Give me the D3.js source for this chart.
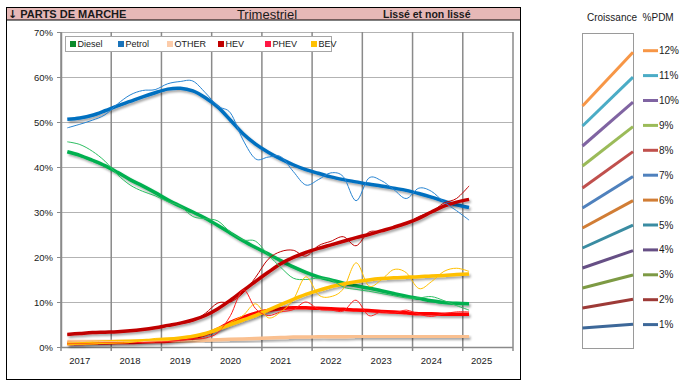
<!DOCTYPE html>
<html>
<head>
<meta charset="utf-8">
<script src="https://cdn.jsdelivr.net/npm/d3@7"></script>
<style>
	body { margin: 0; background: #fff; }
	svg { display: block; }
	text { font-family: "Liberation Sans", Arial, sans-serif; fill: #1a1a1a; }
</style>
</head>
<body>
<svg id="chart" width="691" height="386"></svg>
<script>

// years on the axis, 4 quarters each, data runs 2017-Q1 .. 2025-Q1
var years = [2017, 2018, 2019, 2020, 2021, 2022, 2023, 2024, 2025];
var yTicks = [0, 10, 20, 30, 40, 50, 60, 70];

var seriesNames = ["Diesel", "Petrol", "OTHER", "HEV", "PHEV", "BEV"];

// smoothed series (thick lines)
var dieselLisse = [43.4, 42.6, 41.5, 40.3, 38.8, 37.2, 35.8, 34.3, 32.7, 31.3, 30.0, 28.6, 27.0, 25.3, 23.6, 22.1, 20.7, 19.2, 17.8, 16.6, 15.6, 14.9, 14.2, 13.6, 13.1, 12.5, 11.9, 11.3, 10.8, 10.3, 9.9, 9.7, 9.6];
var petrolLisse = [50.6, 50.9, 51.5, 52.5, 53.6, 54.6, 55.6, 56.5, 57.3, 57.5, 56.9, 55.4, 53.3, 50.4, 47.4, 45.1, 43.3, 41.8, 40.5, 39.4, 38.6, 37.8, 37.2, 36.7, 36.2, 35.8, 35.3, 34.8, 34.1, 33.3, 32.4, 31.6, 31.0];
var otherLisse = [1.2, 1.2, 1.2, 1.2, 1.2, 1.2, 1.2, 1.2, 1.3, 1.3, 1.4, 1.5, 1.6, 1.7, 1.8, 1.9, 2.0, 2.1, 2.2, 2.2, 2.3, 2.3, 2.3, 2.4, 2.4, 2.4, 2.4, 2.4, 2.4, 2.4, 2.4, 2.4, 2.4];
var hevLisse = [2.8, 3.0, 3.2, 3.3, 3.4, 3.6, 3.9, 4.3, 4.8, 5.3, 6.0, 7.0, 8.5, 10.4, 12.5, 14.6, 16.6, 18.5, 19.9, 21.0, 21.9, 22.7, 23.5, 24.3, 25.0, 25.8, 26.6, 27.5, 28.6, 30.0, 31.3, 32.2, 32.8];
var phevLisse = [0.8, 0.8, 0.9, 0.9, 1.0, 1.0, 1.1, 1.2, 1.3, 1.6, 2.0, 2.8, 4.0, 5.5, 6.6, 7.5, 8.1, 8.5, 8.7, 8.7, 8.6, 8.5, 8.4, 8.2, 8.1, 7.9, 7.8, 7.6, 7.4, 7.4, 7.3, 7.3, 7.3];
var bevLisse = [0.8, 0.9, 1.0, 1.1, 1.2, 1.3, 1.4, 1.5, 1.7, 2.0, 2.4, 3.0, 4.0, 5.0, 6.0, 7.0, 8.2, 9.4, 10.6, 11.7, 12.6, 13.4, 14.0, 14.5, 14.9, 15.2, 15.4, 15.5, 15.6, 15.8, 15.9, 16.1, 16.2];

// raw series (thin lines)
var dieselBrut = [45.6, 45.0, 43.5, 41.3, 38.3, 36.0, 34.6, 33.6, 32.3, 31.3, 29.0, 28.5, 28.0, 25.5, 23.8, 23.5, 20.5, 17.7, 15.3, 15.0, 15.3, 14.9, 13.3, 12.8, 12.4, 11.9, 11.4, 10.9, 10.9, 11.2, 10.3, 9.2, 8.2];
var petrolBrut = [48.7, 49.5, 50.4, 51.6, 54.0, 56.0, 57.0, 57.2, 58.5, 59.0, 59.1, 56.5, 53.5, 52.0, 46.0, 41.8, 42.2, 42.3, 39.0, 36.0, 37.2, 38.7, 37.8, 32.5, 37.5, 37.0, 35.0, 33.0, 35.3, 34.6, 32.2, 30.3, 28.2];
var otherBrut = [1.1, 1.2, 1.3, 1.2, 1.2, 1.1, 1.2, 1.3, 1.3, 1.3, 1.4, 1.6, 1.6, 1.7, 1.8, 1.9, 2.1, 2.1, 2.2, 2.3, 2.3, 2.2, 2.4, 2.4, 2.3, 2.4, 2.5, 2.4, 2.4, 2.5, 2.4, 2.4, 2.4];
var hevBrut = [2.7, 2.9, 3.1, 3.3, 3.4, 3.6, 3.9, 4.2, 4.6, 5.2, 5.8, 7.5, 9.8, 10.0, 12.0, 15.5, 19.5, 21.2, 21.5, 20.2, 22.5, 23.5, 24.5, 22.5, 25.5, 25.7, 26.5, 27.4, 29.0, 30.0, 32.0, 33.0, 35.8];
var phevBrut = [0.7, 0.7, 0.8, 0.9, 1.0, 1.0, 1.0, 1.1, 1.2, 1.5, 1.8, 2.0, 3.2, 7.0, 12.7, 8.5, 7.0, 7.8, 8.3, 10.0, 8.4, 8.2, 8.0, 10.4, 7.0, 7.8, 7.5, 8.2, 7.3, 6.8, 7.4, 7.8, 7.8];
var bevBrut = [0.6, 0.6, 0.7, 0.8, 0.9, 1.0, 1.4, 1.9, 2.0, 2.1, 2.4, 2.9, 3.6, 5.5, 7.0, 9.6, 6.5, 7.8, 10.5, 15.6, 11.6, 11.2, 13.0, 18.7, 13.6, 14.9, 17.2, 16.5, 13.0, 14.5, 16.8, 17.5, 16.8];

// side panel: growth curves
var growthLabels = ["1%", "2%", "3%", "4%", "5%", "6%", "7%", "8%", "9%", "10%", "11%", "12%"];
var growthStart = [1.0, 2.0, 3.0, 4.0, 5.0, 6.0, 7.0, 8.0, 9.1, 10.1, 11.1, 12.1];
var growthEnd = [1.19, 2.44, 3.65, 4.87, 6.14, 7.37, 8.57, 9.82, 11.07, 12.29, 13.54, 14.79];

var lineColors = ["#00B050", "#0070C0", "#FAC090", "#C00000", "#FF0000", "#FFC000"];
var thinColors = ["#2DBE62", "#2784D2", "#FAC090", "#C00000", "#FF1E1E", "#FFC000"];
var legendColors = ["#0B8A2A", "#1A73BA", "#FCCCAA", "#C00000", "#FF1744", "#FFC000"];
var growthColors = ["#3D6899", "#9D3A37", "#7D9A44", "#664F85", "#3A8CA2", "#D17D35", "#4F81BD", "#C0504D", "#9BBB59", "#8064A2", "#4BACC6", "#F79646"];

var svg = d3.select("#chart");

renderChart();

function renderChart() {

	var defs = svg.append("defs");

	var shadow = defs.append("filter")
		.attr("id", "shadow")
		.attr("x", "-5%").attr("y", "-20%")
		.attr("width", "110%").attr("height", "140%");

	shadow.append("feDropShadow")
		.attr("dx", 1.5)
		.attr("dy", 2)
		.attr("stdDeviation", 1)
		.attr("flood-color", "#000")
		.attr("flood-opacity", 0.35);

	// outer frame + header band
	svg.append("rect")
		.attr("x", 6.5).attr("y", 7.5)
		.attr("width", 514).attr("height", 372)
		.attr("fill", "#fff")
		.attr("stroke", "#000");

	svg.append("rect")
		.attr("x", 6.5).attr("y", 7.5)
		.attr("width", 514).attr("height", 12.5)
		.attr("fill", "#E6B8B7")
		.attr("stroke", "#000");

	var title = svg.append("text")
		.attr("x", 8).attr("y", 18)
		.attr("font-size", 11)
		.attr("font-weight", "bold");

	title.append("tspan")
		.attr("font-family", "\"DejaVu Sans\", sans-serif")
		.attr("font-size", 11)
		.text("\u2193");

	title.append("tspan")
		.attr("dx", 3)
		.text("PARTS DE MARCHE");

	svg.append("text")
		.attr("x", 267).attr("y", 18.5)
		.attr("font-size", 13)
		.attr("text-anchor", "middle")
		.text("Trimestriel");

	svg.append("text")
		.attr("x", 383).attr("y", 18)
		.attr("font-size", 10.5)
		.attr("font-weight", "bold")
		.text("Lissé et non lissé");

	drawMainPlot();
	drawGrowthPanel();

}

function drawMainPlot() {

	var quarterKeys = [];
	years.forEach(y => [1, 2, 3, 4].forEach(q => quarterKeys.push(y + "-Q" + q)));

	var left = 61, right = 513, top = 32, bottom = 347;

	var xScale = d3.scaleBand()
		.domain(quarterKeys)
		.range([left, right]);

	var yScale = d3.scaleLinear()
		.domain([0, 70])
		.range([bottom, top]);

	var plot = svg.append("g");

	// horizontal grid
	plot.selectAll(".hgrid")
		.data(yTicks.filter(d => d > 0))
		.enter()
		.append("line")
		.attr("x1", left).attr("x2", right)
		.attr("y1", d => Math.round(yScale(d)) + 0.5)
		.attr("y2", d => Math.round(yScale(d)) + 0.5)
		.attr("stroke", "#b3b3b3");

	// year separators (grid + ticks below axis)
	var yearEdges = years.map(y => xScale(y + "-Q1")).concat([right]);

	plot.selectAll(".vgrid")
		.data(yearEdges)
		.enter()
		.append("line")
		.attr("x1", d => d).attr("x2", d => d)
		.attr("y1", top).attr("y2", bottom + 4)
		.attr("stroke", "#8a8a8a")
		.attr("stroke-width", 1.5);

	// y axis
	var yAxis = plot.append("g")
		.attr("transform", "translate(" + left + ",0)")
		.call(d3.axisLeft(yScale).tickValues(yTicks).tickFormat(d => d + "%").tickSize(4).tickSizeOuter(0));

	yAxis.select(".domain").attr("stroke", "#8a8a8a").attr("stroke-width", 1.5);
	yAxis.selectAll(".tick line").attr("stroke", "#8a8a8a");
	yAxis.selectAll(".tick text")
		.attr("x", -8)
		.attr("font-size", 9.5)
		.attr("font-family", "\"Liberation Sans\", Arial, sans-serif")
		.attr("fill", "#1a1a1a");

	// x axis line
	plot.append("line")
		.attr("x1", left).attr("x2", right)
		.attr("y1", bottom + 0.5).attr("y2", bottom + 0.5)
		.attr("stroke", "#8a8a8a")
		.attr("stroke-width", 1.5);

	plot.selectAll(".year")
		.data(years)
		.enter()
		.append("text")
		.attr("x", d => xScale(d + "-Q2") + xScale.bandwidth() / 2)
		.attr("y", 364)
		.attr("font-size", 9.5)
		.attr("text-anchor", "middle")
		.text(d => d);

	var line = d3.line()
		.x((d, i) => xScale(quarterKeys[i]) + xScale.bandwidth() / 2)
		.y(d => yScale(d))
		.curve(d3.curveCardinal.tension(0));

	var smoothed = [dieselLisse, petrolLisse, otherLisse, hevLisse, phevLisse, bevLisse];
	var raw = [dieselBrut, petrolBrut, otherBrut, hevBrut, phevBrut, bevBrut];

	plot.selectAll(".lisse")
		.data(smoothed)
		.enter()
		.append("path")
		.attr("d", line)
		.attr("fill", "none")
		.attr("stroke", (d, i) => lineColors[i])
		.attr("stroke-width", 3.5)
		.attr("filter", "url(#shadow)");

	plot.selectAll(".brut")
		.data(raw)
		.enter()
		.append("path")
		.attr("d", line)
		.attr("fill", "none")
		.attr("stroke", (d, i) => thinColors[i])
		.attr("stroke-width", 1);

	// legend, item positions as in the excel legend
	var legendX = [70, 118, 167, 218, 265, 311];
	var legend = plot.append("g");

	legend.append("rect")
		.attr("x", 65.5).attr("y", 36.5)
		.attr("width", 266).attr("height", 15)
		.attr("fill", "#fff")
		.attr("stroke", "#a6a6a6");

	var items = legend.selectAll(".item")
		.data(seriesNames)
		.enter()
		.append("g")
		.attr("transform", (d, i) => "translate(" + legendX[i] + ",0)");

	items.append("rect")
		.attr("x", 0).attr("y", 41)
		.attr("width", 6).attr("height", 6)
		.attr("fill", (d, i) => legendColors[i]);

	items.append("text")
		.attr("x", 7.5).attr("y", 47.3)
		.attr("font-size", 9)
		.attr("font-family", "\"Liberation Sans Narrow\", \"Liberation Sans\", Arial, sans-serif")
		.text(d => d);

}

function drawGrowthPanel() {

	var gx = d3.scaleLinear().domain([0, 1]).range([582.5, 633]);
	var gy = d3.scaleLinear().domain([0, 15.75]).range([348, 33]);

	var panel = svg.append("g");

	panel.append("text")
		.attr("x", 587).attr("y", 21)
		.attr("font-size", 10)
		.attr("xml:space", "preserve")
		.text("Croissance  %PDM");

	panel.append("rect")
		.attr("x", 582.5).attr("y", 33.5)
		.attr("width", 51).attr("height", 315)
		.attr("fill", "none")
		.attr("stroke", "#9a9a9a");

	panel.selectAll(".growth")
		.data(growthLabels)
		.enter()
		.append("line")
		.attr("x1", gx(0)).attr("x2", gx(1))
		.attr("y1", (d, i) => gy(growthStart[i]))
		.attr("y2", (d, i) => gy(growthEnd[i]))
		.attr("stroke", (d, i) => growthColors[i])
		.attr("stroke-width", 3);

	// legend, 12% at the top
	var items = panel.selectAll(".gitem")
		.data(growthLabels)
		.enter()
		.append("g")
		.attr("transform", (d, i) => "translate(0," + (50.7 + (growthLabels.length - 1 - i) * 24.9) + ")");

	items.append("line")
		.attr("x1", 643).attr("x2", 658)
		.attr("y1", 0).attr("y2", 0)
		.attr("stroke", (d, i) => growthColors[i])
		.attr("stroke-width", 3);

	items.append("text")
		.attr("x", 659)
		.attr("y", 0)
		.attr("dominant-baseline", "central")
		.attr("font-size", 10)
		.text(d => d);

}

</script>
</body>
</html>
